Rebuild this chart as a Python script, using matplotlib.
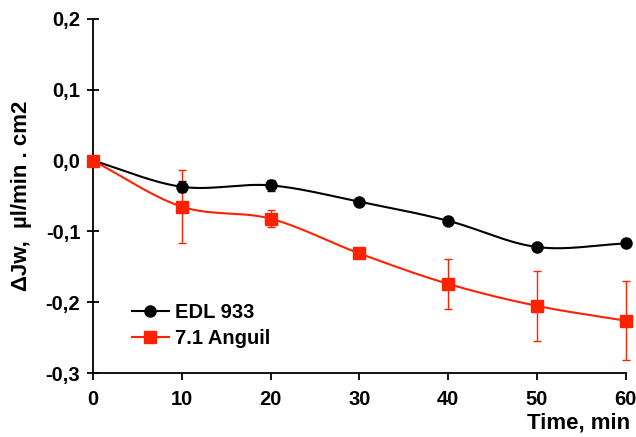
import matplotlib
matplotlib.use('Agg')
import matplotlib.pyplot as plt
import numpy as np

plt.rcParams['font.family'] = ['Liberation Sans', 'DejaVu Sans']
plt.rcParams['font.weight'] = 'bold'

time = [0, 10, 20, 30, 40, 50, 60]
edl = [0.0, -0.037, -0.035, -0.058, -0.085, -0.122, -0.117]
edl_err = [0.0, 0.008, 0.008, 0.004, 0.004, 0.004, 0.004]
anguil = [0.0, -0.065, -0.082, -0.131, -0.174, -0.205, -0.226]
anguil_err = [0.0, 0.052, 0.012, 0.007, 0.035, 0.049, 0.056]


def smooth(x, y, n=30):
    # catmull-rom curve through the points, like excel's smoothed line
    x = np.asarray(x, float)
    y = np.asarray(y, float)
    px = np.concatenate([[2 * x[0] - x[1]], x, [2 * x[-1] - x[-2]]])
    py = np.concatenate([[2 * y[0] - y[1]], y, [2 * y[-1] - y[-2]]])
    xs, ys = [], []
    t = np.linspace(0, 1, n)
    for i in range(1, len(px) - 2):
        for p, out in ((px, xs), (py, ys)):
            p0, p1, p2, p3 = p[i - 1], p[i], p[i + 1], p[i + 2]
            out.extend(0.5 * ((2 * p1) + (-p0 + p2) * t
                              + (2 * p0 - 5 * p1 + 4 * p2 - p3) * t ** 2
                              + (-p0 + 3 * p1 - 3 * p2 + p3) * t ** 3))
    return xs, ys


red = '#ff2200'

fig = plt.figure(figsize=(6.36, 4.37), dpi=100)
ax = fig.add_axes([0.146, 0.146, 0.838, 0.811])

sx, sy = smooth(time, edl)
ax.plot(sx, sy, color='black', lw=1.5, zorder=2, clip_on=False)
eb = ax.errorbar(time, edl, yerr=edl_err, fmt='none', ecolor='black', elinewidth=1, capsize=3, zorder=3)
for a in eb.lines[1] + eb.lines[2]:
    a.set_clip_on(False)
ax.plot(time, edl, 'o', color='black', ms=8, zorder=4, clip_on=False)

sx, sy = smooth(time, anguil)
ax.plot(sx, sy, color=red, lw=1.5, zorder=2, clip_on=False)
eb = ax.errorbar(time, anguil, yerr=anguil_err, fmt='none', ecolor=red, elinewidth=1, capsize=3, zorder=3)
for a in eb.lines[1] + eb.lines[2]:
    a.set_clip_on(False)
ax.plot(time, anguil, 's', color=red, ms=9, zorder=5, clip_on=False)

# legend handles
ax.plot([], [], 'o-', color='black', ms=8, lw=1.5, label='EDL 933')
ax.plot([], [], 's-', color=red, ms=9, lw=1.5, label='7.1 Anguil')
leg = ax.legend(loc='lower left', bbox_to_anchor=(0.04, 0.02), frameon=False,
                fontsize=14.5, handlelength=1.8, handletextpad=0.3, labelspacing=0.35)

ax.set_xlim(0, 60)
ax.set_ylim(-0.3, 0.2)
ax.set_xticks(time)
ax.set_yticks([-0.3, -0.2, -0.1, 0.0, 0.1, 0.2])
ax.set_yticklabels(['-0,3', '-0,2', '-0,1', '0,0', '0,1', '0,2'])
ax.spines['top'].set_visible(False)
ax.spines['right'].set_visible(False)
ax.spines['left'].set_linewidth(1.3)
ax.spines['bottom'].set_linewidth(1.3)
ax.tick_params(axis='y', direction='inout', length=8, width=1.3, labelsize=14.5, pad=5)
ax.tick_params(axis='x', direction='out', length=5, width=1.3, labelsize=14.5, pad=7)
for lab in ax.get_xticklabels() + ax.get_yticklabels():
    lab.set_fontweight('bold')

ax.set_ylabel('\u0394Jw,  \u00b5l/min . cm2', fontsize=16, fontweight='bold', labelpad=10)
fig.text(0.99, 0.008, 'Time, min', ha='right', va='bottom', fontsize=16, fontweight='bold')

fig.savefig('out.png', dpi=100)
